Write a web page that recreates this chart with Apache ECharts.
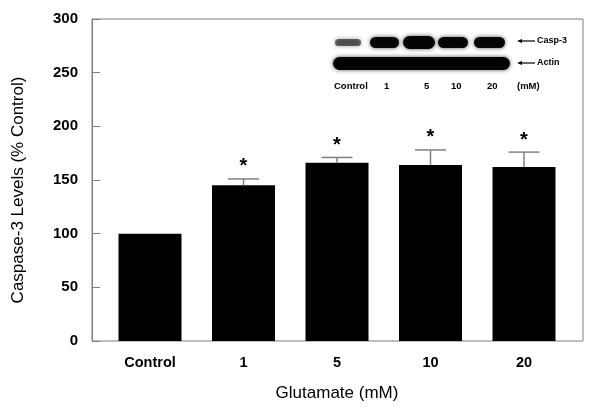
<!DOCTYPE html>
<html><head><meta charset="utf-8">
<script src="https://cdn.jsdelivr.net/npm/echarts@6/dist/echarts.min.js"></script>
<style>html,body{margin:0;padding:0;background:#fff}#c{width:600px;height:409px}</style>
</head><body><div id="c"></div>
<script>
var categories = ['Control', '1', '5', '10', '20'];
var values = [100, 145, 166, 164, 162];
var errors = [0, 6, 5, 14, 14];
var significant = [false, true, true, true, true];
var yTicks = [0, 50, 100, 150, 200, 250, 300];
var blotLanes = ['Control', '1', '5', '10', '20', '(mM)'];

var chart = echarts.init(document.getElementById('c'));
var FONT = '"Liberation Sans", Arial, sans-serif';
var errData = values.map(function (v, i) { return [i, v, v + errors[i], significant[i] ? 1 : 0]; });

function band(x, y, w, h, op) {
  return { type: 'rect', shape: { x: x, y: y, width: w, height: h, r: h / 2 },
    style: { fill: 'rgba(0,0,0,' + op + ')', shadowBlur: 4, shadowColor: 'rgba(0,0,0,0.7)' } };
}
var graphics = [
  band(335, 39, 26, 7, 0.55),
  band(370, 37, 29, 11, 0.95),
  band(403, 36, 32, 13, 0.97),
  band(438, 37, 30, 11, 0.95),
  band(474, 37, 31, 11, 0.95),
  band(333, 57, 177, 13, 0.97),
  { type: 'line', shape: { x1: 519, y1: 41, x2: 535, y2: 41 }, style: { stroke: '#000', lineWidth: 1.2 } },
  { type: 'polygon', shape: { points: [[517, 41], [522, 39], [522, 43]] }, style: { fill: '#000' } },
  { type: 'text', x: 537, y: 41, style: { text: 'Casp-3', font: 'bold 9px ' + FONT, fill: '#000', verticalAlign: 'middle' } },
  { type: 'line', shape: { x1: 519, y1: 63, x2: 535, y2: 63 }, style: { stroke: '#000', lineWidth: 1.2 } },
  { type: 'polygon', shape: { points: [[517, 63], [522, 61], [522, 65]] }, style: { fill: '#000' } },
  { type: 'text', x: 537, y: 63, style: { text: 'Actin', font: 'bold 9px ' + FONT, fill: '#000', verticalAlign: 'middle' } }
];
var laneX = [334, 384, 424, 451, 487, 517];
blotLanes.forEach(function (t, i) {
  graphics.push({ type: 'text', x: laneX[i], y: 86, style: { text: t, font: 'bold 9.5px ' + FONT, fill: '#000', verticalAlign: 'middle' } });
});

chart.setOption({
  animation: false,
  backgroundColor: '#fff',
  grid: [
    { left: 92, right: 17, top: 19, bottom: 68, show: true, borderColor: '#7f7f7f', borderWidth: 1, backgroundColor: 'transparent' },
    { left: 103.25, right: 29.25, top: 19, bottom: 68 }
  ],
  xAxis: [
    { type: 'value', gridIndex: 0, min: 0, max: 1, show: false },
    { type: 'category', gridIndex: 1, data: categories,
      axisLine: { show: false }, axisTick: { show: false },
      axisLabel: { fontFamily: FONT, fontWeight: 'bold', fontSize: 14.5, color: '#000', margin: 14 },
      name: 'Glutamate (mM)', nameLocation: 'middle', nameGap: 44,
      nameTextStyle: { fontFamily: FONT, fontSize: 17, color: '#000' } }
  ],
  yAxis: [
    { type: 'value', gridIndex: 0, min: 0, max: 300, interval: 50,
      axisLine: { show: true, lineStyle: { color: '#7f7f7f' } },
      axisTick: { show: true, inside: true, length: 8, lineStyle: { color: '#7f7f7f' } },
      splitLine: { show: false },
      axisLabel: { fontFamily: FONT, fontWeight: 'bold', fontSize: 15, color: '#000', margin: 14,
        formatter: function (v) { return yTicks.indexOf(v) >= 0 ? String(v) : ''; } },
      name: 'Caspase-3 Levels (% Control)', nameLocation: 'middle', nameGap: 65,
      nameTextStyle: { fontFamily: FONT, fontSize: 17, color: '#000', padding: [0, 20, 0, 0] } },
    { type: 'value', gridIndex: 1, min: 0, max: 300, show: false }
  ],
  series: [
    { type: 'bar', xAxisIndex: 1, yAxisIndex: 1, data: values, barWidth: 63,
      itemStyle: { color: '#000' }, silent: true },
    { type: 'custom', xAxisIndex: 1, yAxisIndex: 1, data: errData, z: 5,
      renderItem: function (params, api) {
        var i = api.value(0), v = api.value(1), top = api.value(2), sig = api.value(3);
        var p0 = api.coord([i, v]), p1 = api.coord([i, top]);
        var children = [];
        if (top > v) {
          children.push({ type: 'line', shape: { x1: p0[0], y1: p0[1], x2: p1[0], y2: p1[1] }, style: { stroke: '#808080', lineWidth: 1.5 } });
          children.push({ type: 'line', shape: { x1: p1[0] - 15.5, y1: p1[1], x2: p1[0] + 15.5, y2: p1[1] }, style: { stroke: '#808080', lineWidth: 1.5 } });
        }
        if (sig) {
          children.push({ type: 'text', x: p1[0], y: p1[1] - 12, style: { text: '*', font: 'bold 20px ' + FONT, fill: '#000', align: 'center', verticalAlign: 'middle' } });
        }
        return { type: 'group', children: children };
      } }
  ],
  graphic: graphics
});
</script></body></html>
